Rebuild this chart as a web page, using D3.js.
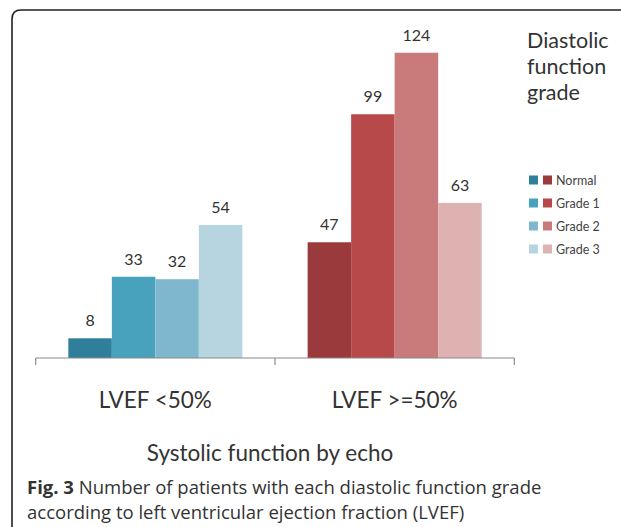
<!DOCTYPE html>
<html>
<head>
<meta charset="utf-8">
<script src="https://cdn.jsdelivr.net/npm/d3@7"></script>
<style>
  body { margin: 0; background: #fff; }
  svg text { font-family: Lato, "Open Sans", sans-serif; }
  svg text.caption { font-family: "Open Sans", Lato, sans-serif; }
</style>
</head>
<body>
<div id="chart"></div>
<script>
// chart data
const categories = ["LVEF <50%", "LVEF >=50%"];
const grades = ["Normal", "Grade 1", "Grade 2", "Grade 3"];
const lowEF = [8, 33, 32, 54];     // LVEF <50%
const normalEF = [47, 99, 124, 63]; // LVEF >=50%
const blues = ["#2f7f9b", "#48a2bd", "#7fb7cf", "#b6d5e1"];
const reds = ["#9a3a3c", "#b8494a", "#c97a7b", "#deb2b1"];

const width = 621, height = 527;

const svg = d3.select("#chart").append("svg")
  .attr("width", width)
  .attr("height", height);

// frame: left + top rule with rounded corner
svg.append("path")
  .attr("d", "M12," + height + " L12,19 Q12,10 21,10 L" + width + ",10")
  .attr("fill", "none")
  .attr("stroke", "#222")
  .attr("stroke-width", 1.6);

const baseY = 358;
const y = d3.scaleLinear().domain([0, 124]).range([baseY, 52.7]);

const x0 = d3.scaleBand().domain(categories).range([35.7, 514.3]).padding(0);
const x1 = d3.scaleBand().domain(grades).range([0, x0.bandwidth()])
  .paddingInner(0).paddingOuter(0.75);

const rows = categories.map((c, i) => ({
  cat: c,
  values: (i === 0 ? lowEF : normalEF),
  colours: (i === 0 ? blues : reds)
}));

const groups = svg.selectAll(".grp")
  .data(rows)
  .enter().append("g")
  .attr("class", "grp")
  .attr("transform", d => "translate(" + x0(d.cat) + ",0)");

groups.selectAll("rect")
  .data(d => d.values.map((v, j) => ({ g: grades[j], v: v, c: d.colours[j] })))
  .enter().append("rect")
  .attr("x", d => x1(d.g))
  .attr("y", d => y(d.v))
  .attr("width", x1.bandwidth())
  .attr("height", d => baseY - y(d.v))
  .attr("fill", d => d.c);

groups.selectAll(".lbl")
  .data(d => d.values.map((v, j) => ({ g: grades[j], v: v })))
  .enter().append("text")
  .attr("class", "lbl")
  .attr("x", d => x1(d.g) + x1.bandwidth() / 2)
  .attr("y", d => y(d.v) - 12)
  .attr("text-anchor", "middle")
  .attr("font-size", 16)
  .attr("fill", "#333")
  .text(d => d.v);

// category axis
const axis = svg.append("g")
  .attr("transform", "translate(0," + baseY + ")");
axis.append("line")
  .attr("x1", 35.7).attr("x2", 514.3)
  .attr("stroke", "#8a8a8a").attr("stroke-width", 1.2);
const tickXs = categories.map(c => x0(c)).concat([x0(categories[1]) + x0.bandwidth()]);
axis.selectAll(".tick")
  .data(tickXs)
  .enter().append("line")
  .attr("x1", d => d).attr("x2", d => d)
  .attr("y1", 0).attr("y2", 7)
  .attr("stroke", "#8a8a8a").attr("stroke-width", 1.2);
axis.selectAll(".cat")
  .data(categories)
  .enter().append("text")
  .attr("x", d => x0(d) + x0.bandwidth() / 2)
  .attr("y", 50)
  .attr("text-anchor", "middle")
  .attr("font-size", 22.5)
  .attr("fill", "#333")
  .text(d => d);

svg.append("text")
  .attr("x", 270)
  .attr("y", 461)
  .attr("text-anchor", "middle")
  .attr("font-size", 22.5)
  .attr("fill", "#333")
  .text("Systolic function by echo");

// legend
const legendTitle = ["Diastolic", "function", "grade"];
svg.selectAll(".ltitle")
  .data(legendTitle)
  .enter().append("text")
  .attr("x", 527)
  .attr("y", (d, i) => 48 + i * 26)
  .attr("font-size", 21.5)
  .attr("fill", "#333")
  .text(d => d);

const legend = svg.selectAll(".leg")
  .data(grades)
  .enter().append("g")
  .attr("transform", (d, i) => "translate(529," + (180 + i * 23) + ")");
legend.append("rect")
  .attr("x", 0).attr("y", -4.5).attr("width", 9).attr("height", 9)
  .attr("fill", (d, i) => blues[i]);
legend.append("rect")
  .attr("x", 14).attr("y", -4.5).attr("width", 9).attr("height", 9)
  .attr("fill", (d, i) => reds[i]);
legend.append("text")
  .attr("x", 27).attr("y", 4.5)
  .attr("font-size", 12.5)
  .attr("fill", "#444")
  .text(d => d);

// caption
const cap = svg.append("text")
  .attr("class", "caption")
  .attr("x", 27).attr("y", 494)
  .attr("font-size", 18.5)
  .attr("fill", "#333");
cap.append("tspan").attr("font-weight", "bold").text("Fig. 3");
cap.append("tspan").text(" Number of patients with each diastolic function grade");
svg.append("text")
  .attr("class", "caption")
  .attr("x", 27).attr("y", 519)
  .attr("font-size", 18.5)
  .attr("fill", "#333")
  .text("according to left ventricular ejection fraction (LVEF)");
</script>
</body>
</html>
